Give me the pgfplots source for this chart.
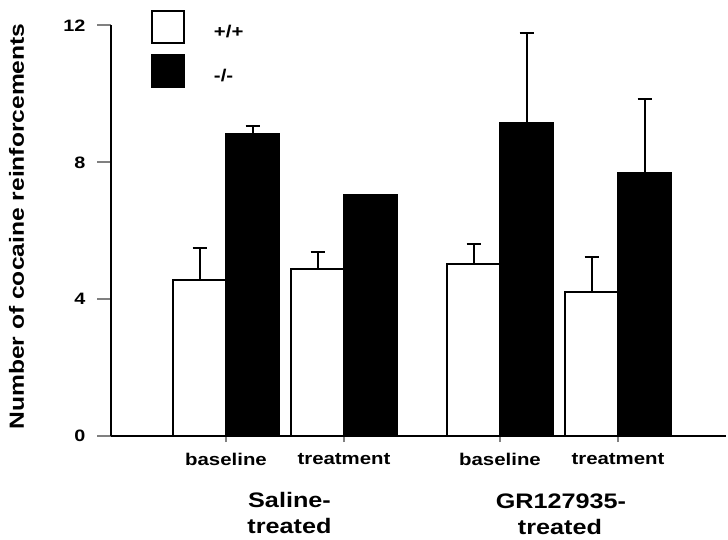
\documentclass[border=0pt]{standalone}
\usepackage{pgfplots}
\pgfplotsset{compat=1.18}
\usepackage{fontspec}
\setmainfont{Liberation Sans}[FakeStretch=1.2]

% mean and SEM of cocaine reinforcements, per session type
\pgfplotstableread{
x   y     err
226 4.56  0.95
344 4.88  0.50
500 5.02  0.59
618 4.22  1.02
}\wildtype
\pgfplotstableread{
x   y     err
226 8.83  0.22
344 7.05  0.00
500 9.16  2.63
618 7.68  2.18
}\knockout

\begin{document}
\begin{tikzpicture}[x=1pt,y=1pt]
\useasboundingbox (0,0) rectangle (728,539);
\begin{axis}[
  at={(111pt,103pt)}, anchor=south west,
  scale only axis, width=615pt, height=410.5pt,
  xmin=111, xmax=726, ymin=0, ymax=12,
  axis x line*=bottom, axis y line*=left,
  axis line style={line width=2pt, -},
  ytick={0,4,8,12},
  xtick={226,344,500,618},
  xticklabels={baseline,treatment,baseline,treatment},
  tick align=outside,
  major tick length=14pt,
  ytick style={line width=2pt},
  xtick style={line width=2pt, /pgfplots/major tick length=6pt},
  /pgf/number format/assume math mode=true,
  yticklabel style={font=\fontsize{16.5}{16.5}\selectfont\bfseries, xshift=-8pt},
  xticklabel style={font=\fontsize{17}{17}\selectfont\bfseries},
  ybar, bar width=53,
  legend style={at={(0.065,1.0378)}, anchor=north west, draw=none, fill=none,
    inner sep=0pt, outer sep=0pt, row sep=10pt, column sep=29pt,
    nodes={inner sep=0pt},
    font=\fontsize{17}{17}\selectfont\bfseries},
  legend cell align=left,
  legend image code/.code={\draw[#1, line width=2pt] (0pt,-11pt) rectangle (32pt,21pt);},
]
\addplot[bar shift=-26.5, draw=black, line width=2pt, fill=white,
  error bars/.cd, y dir=plus, y explicit,
  error bar style={line width=2pt, black},
  error mark options={rotate=90, mark size=7pt, line width=2pt, black}]
  table[x=x, y=y, y error=err] {\wildtype};
\addlegendentry{+/+}
\addplot[bar shift=26.5, draw=black, line width=2pt, fill=black,
  error bars/.cd, y dir=plus, y explicit,
  error bar style={line width=2pt, black},
  error mark options={rotate=90, mark size=7pt, line width=2pt, black}]
  table[x=x, y=y, y error=err] {\knockout};
\addlegendentry{-/-}
\end{axis}
\node[rotate=90, anchor=base, font=\fontsize{20.5}{20.5}\selectfont\bfseries]
  at (24,312.5) {Number of cocaine reinforcements};
\begin{scope}[every node/.style={anchor=base, font=\fontsize{21}{21}\selectfont\bfseries}]
\node at (289.5,32) {Saline-};
\node at (289.5,5.5) {treated};
\node at (561,31) {GR127935-};
\node at (560,5) {treated};
\end{scope}
\end{tikzpicture}
\end{document}
